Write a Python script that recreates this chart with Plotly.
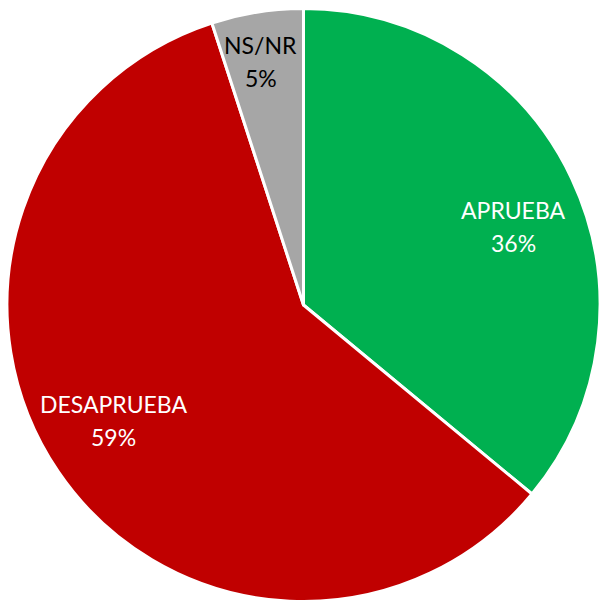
import math
import plotly.graph_objects as go

labels = ['APRUEBA', 'DESAPRUEBA', 'NS/NR']
values = [36, 59, 5]
colors = ['#00B050', '#C00000', '#A6A6A6']
text_colors = ['white', 'white', 'black']

W, H = 600, 602
M = dict(l=7, r=0, t=8, b=0)
pw = W - M['l'] - M['r']
ph = H - M['t'] - M['b']
cx = pw / 2 + M['l']
cy = ph / 2 + M['t']
R = min(pw, ph) / 2
# label placement: share of radius and a small angle nudge (degrees) from slice middle
label_r = [0.757, 0.749, 0.834]
label_da = [4.8, 2.9, -1.0]

fig = go.Figure(go.Pie(
    labels=labels,
    values=values,
    sort=False,
    direction='clockwise',
    rotation=0,
    marker=dict(colors=colors, line=dict(color='white', width=3)),
    textinfo='none',
    hoverinfo='label+percent',
    showlegend=False,
))

total = sum(values)
cum = 0
for lab, v, tc, lr, da in zip(labels, values, text_colors, label_r, label_da):
    mid = (cum + v / 2) / total * 2 * math.pi + math.radians(da)
    cum += v
    px = cx + lr * R * math.sin(mid)
    py = cy - lr * R * math.cos(mid)
    xp = (px - M['l']) / pw
    yp = 1 - (py - M['t']) / ph
    for txt, shift in [(lab, 16.5), (f'{round(v / total * 100)}%', -16.5)]:
        fig.add_annotation(
            x=xp, y=yp, xref='paper', yref='paper',
            xanchor='center', yanchor='middle',
            text=txt, showarrow=False, yshift=shift,
            font=dict(family='Lato', size=23, color=tc),
        )

fig.update_layout(
    width=W, height=H,
    margin=M,
    paper_bgcolor='white',
    plot_bgcolor='white',
)

config = {'displayModeBar': False}

# drop the default body margin so the figure fills the window exactly
fig.write_html('out.html', config=config, post_script="document.body.style.margin='0';")
